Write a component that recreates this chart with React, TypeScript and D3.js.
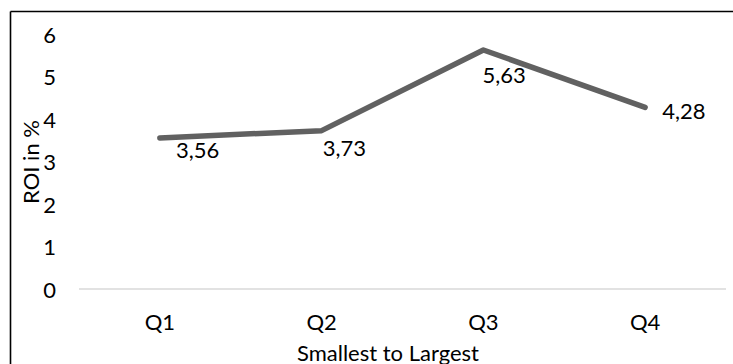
import React from "react";
import * as d3 from "d3";

const categories = ["Q1", "Q2", "Q3", "Q4"];
const roiValues = [3.56, 3.73, 5.63, 4.28];
const valueLabels = ["3,56", "3,73", "5,63", "4,28"];
const yTicks = [0, 1, 2, 3, 4, 5, 6];

// label placement relative to each point (dx to text start, dy to text middle)
const labelOffsets = [
  [16, 12],
  [1, 17],
  [-1, 24],
  [17, 3],
];

const W = 733;
const H = 364;
const FONT = "Lato, 'Open Sans', sans-serif";
const FS = 22;

export default function App() {
  const x = d3.scaleBand<string>().domain(categories).range([79, 726]).padding(0);
  const y = d3.scaleLinear().domain([0, 6]).range([289, 34.3]);

  const pts = categories.map((c, i) => [x(c)! + x.bandwidth() / 2, y(roiValues[i])] as [number, number]);
  const line = d3.line<[number, number]>().x((d) => d[0]).y((d) => d[1]);

  return (
    <svg
      width={W}
      height={H}
      style={{ position: "fixed", left: 0, top: 0, background: "#fff", display: "block" }}
      fontFamily={FONT}
    >
      <rect x={0} y={0} width={W} height={H} fill="#fff" />
      {/* chart frame */}
      <line x1={10.5} y1={11.5} x2={W} y2={11.5} stroke="#000" strokeWidth={1.6} />
      <line x1={10.5} y1={11.5} x2={10.5} y2={H} stroke="#000" strokeWidth={1.6} />

      {/* baseline */}
      <line x1={79} x2={726} y1={y(0)} y2={y(0)} stroke="#d9d9d9" strokeWidth={1.5} />

      {/* y tick labels */}
      {yTicks.map((t) => (
        <text key={t} x={56} y={y(t)} textAnchor="end" dominantBaseline="central" fontSize={FS} fill="#000">
          {t}
        </text>
      ))}

      {/* x tick labels */}
      {categories.map((c) => (
        <text
          key={c}
          x={x(c)! + x.bandwidth() / 2}
          y={321}
          textAnchor="middle"
          dominantBaseline="central"
          fontSize={FS}
          fill="#000"
        >
          {c}
        </text>
      ))}

      {/* axis titles */}
      <text
        transform={`translate(30,162) rotate(-90)`}
        textAnchor="middle"
        dominantBaseline="central"
        fontSize={FS}
        fill="#000"
      >
        ROI in %
      </text>
      <text x={388} y={352} textAnchor="middle" dominantBaseline="central" fontSize={FS} fill="#000">
        Smallest to Largest
      </text>

      {/* series line */}
      <path
        d={line(pts) ?? ""}
        fill="none"
        stroke="#616161"
        strokeWidth={5.5}
        strokeLinecap="round"
        strokeLinejoin="round"
      />

      {/* data labels */}
      {pts.map((p, i) => (
        <text
          key={i}
          x={p[0] + labelOffsets[i][0]}
          y={p[1] + labelOffsets[i][1]}
          dominantBaseline="central"
          fontSize={FS}
          fill="#000"
        >
          {valueLabels[i]}
        </text>
      ))}
    </svg>
  );
}
